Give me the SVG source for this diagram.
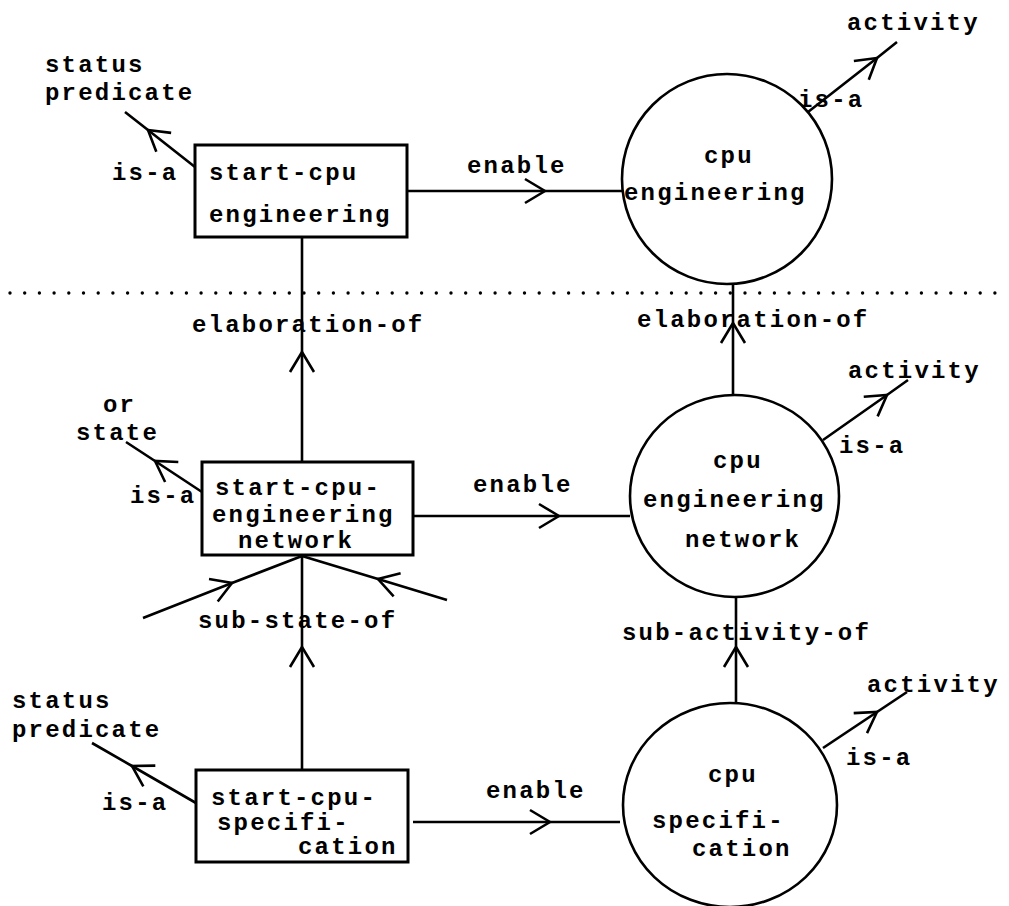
<svg xmlns="http://www.w3.org/2000/svg" width="1009" height="906" viewBox="0 0 1009 906">
<defs>
<style>
text{font-family:"Liberation Mono","DejaVu Sans Mono",monospace;font-size:24px;font-weight:bold;letter-spacing:2.2px;fill:#000}
.box{fill:#fff;stroke:#000;stroke-width:3}
.circ{fill:#fff;stroke:#000;stroke-width:2.6}
.edge{fill:none;stroke:#000;stroke-width:2.6;marker-mid:url(#v)}
.dots{stroke:#000;stroke-width:3.4;stroke-linecap:round;stroke-dasharray:0 14.7}
</style>
<marker id="v" viewBox="-24 -16 26 32" markerWidth="26" markerHeight="32" refX="0" refY="0" orient="auto" markerUnits="userSpaceOnUse">
<path d="M-20,-12 L0,0 L-20,12" fill="none" stroke="#000" stroke-width="2.6"/>
</marker>
</defs>
<rect width="1009" height="906" fill="#fff"/>
<line class="dots" x1="10" y1="293" x2="1000" y2="293"/>
<g id="connectors">
<path class="edge" d="M195,167 L148,130 L125,112"/>
<path class="edge" d="M407,191 L545,191 L623,191"/>
<path class="edge" d="M808,112 L877,58 L897,42"/>
<path class="edge" d="M302,462 L302,352 L302,237"/>
<path class="edge" d="M733,395 L733,323 L733,283"/>
<path class="edge" d="M202,492 L155,461 L126,442"/>
<path class="edge" d="M413,516 L559,516 L630,516"/>
<path class="edge" d="M823,440 L887,395 L908,380"/>
<path class="edge" d="M143,618 L232,583 L302,556"/>
<path class="edge" d="M447,600 L378,579 L302,556"/>
<path class="edge" d="M302,770 L302,647 L302,556"/>
<path class="edge" d="M196,803 L132,766 L92,743"/>
<path class="edge" d="M413,822 L550,822 L620,822"/>
<path class="edge" d="M736,703 L736,647 L736,597"/>
<path class="edge" d="M823,748 L877,712 L907,692"/>
</g>
<g id="labels">
<text x="45" y="72">status</text>
<text x="45" y="100">predicate</text>
<text x="112" y="180">is-a</text>
<text x="467" y="173">enable</text>
<text x="847" y="30">activity</text>
<text x="798" y="107">is-a</text>
<text x="192" y="332">elaboration-of</text>
<text x="637" y="327">elaboration-of</text>
<text x="103" y="412">or</text>
<text x="76" y="440">state</text>
<text x="130" y="503">is-a</text>
<text x="473" y="492">enable</text>
<text x="848" y="378">activity</text>
<text x="839" y="453">is-a</text>
<text x="198" y="628">sub-state-of</text>
<text x="622" y="640">sub-activity-of</text>
<text x="12" y="708">status</text>
<text x="12" y="737">predicate</text>
<text x="102" y="810">is-a</text>
<text x="486" y="798">enable</text>
<text x="867" y="692">activity</text>
<text x="846" y="765">is-a</text>
</g>
<g id="start-cpu-engineering">
<rect class="box" x="195" y="145" width="212" height="92"/>
<text x="209" y="180">start-cpu</text>
<text x="209" y="222">engineering</text>
</g>
<g id="cpu-engineering">
<circle class="circ" cx="727" cy="179" r="105"/>
<text x="704" y="163">cpu</text>
<text x="624" y="200">engineering</text>
</g>
<g id="start-cpu-engineering-network">
<rect class="box" x="202" y="462" width="211" height="93"/>
<text x="215" y="495">start-cpu-</text>
<text x="212" y="522">engineering</text>
<text x="238" y="548">network</text>
</g>
<g id="cpu-engineering-network">
<ellipse class="circ" cx="734.5" cy="496" rx="104.5" ry="101"/>
<text x="713" y="468">cpu</text>
<text x="643" y="507">engineering</text>
<text x="685" y="547">network</text>
</g>
<g id="start-cpu-specification">
<rect class="box" x="196" y="770" width="212" height="92"/>
<text x="211" y="805">start-cpu-</text>
<text x="217" y="830">specifi-</text>
<text x="298" y="854">cation</text>
</g>
<g id="cpu-specification">
<ellipse class="circ" cx="730" cy="805" rx="107" ry="102"/>
<text x="708" y="782">cpu</text>
<text x="652" y="828">specifi-</text>
<text x="692" y="856">cation</text>
</g>
</svg>
